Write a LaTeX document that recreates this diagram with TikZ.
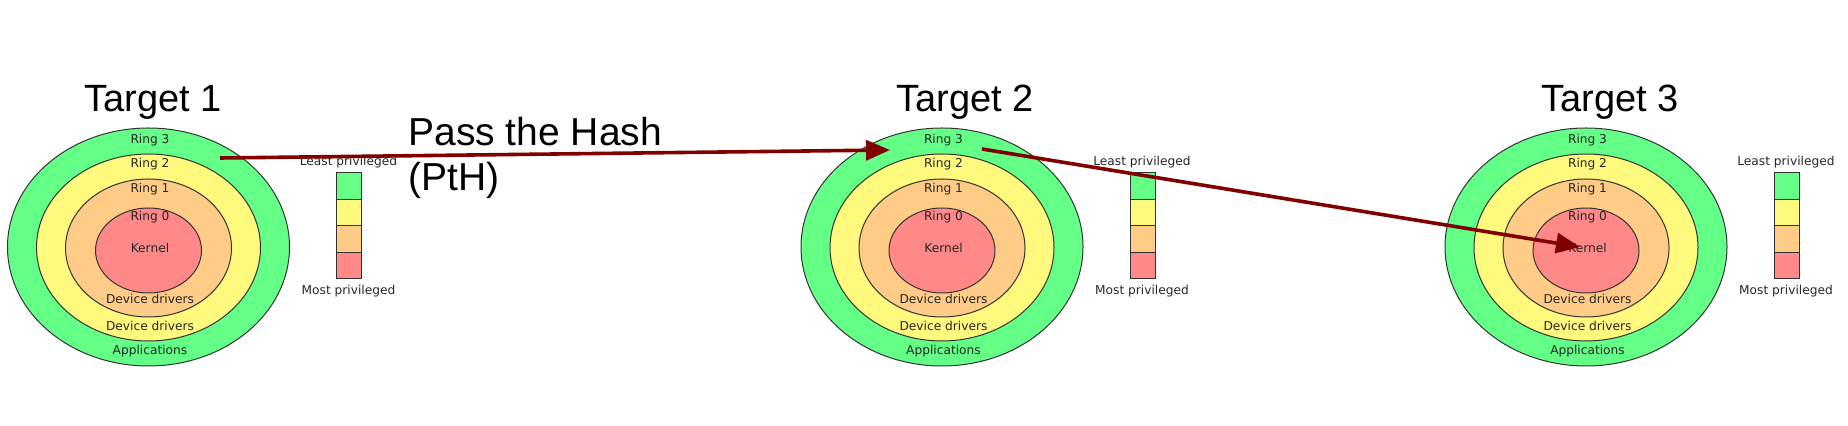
\documentclass[tikz,border=0pt]{standalone}
\usepackage{fontspec}
\setmainfont{Liberation Sans}
\newfontfamily\ringfont{DejaVu Sans}
\usetikzlibrary{shapes.geometric,arrows.meta}
\definecolor{ringgreen}{RGB}{100,255,135}
\definecolor{ringyellow}{RGB}{255,250,125}
\definecolor{ringorange}{RGB}{255,204,136}
\definecolor{ringred}{RGB}{255,136,136}
\definecolor{pthred}{RGB}{128,0,0}
\begin{document}
\begin{tikzpicture}[
        x=0.5pt, y=-0.5pt,
        % Ringe als Ellipsen, Maße in pt
        ring/.style={ellipse, draw=black!80, line width=0.5pt, inner sep=0pt},
        ringlabel/.style={font=\ringfont\fontsize{6.1}{7}\selectfont, text=black!85, inner sep=0pt},
        % Legende rechts neben jedem Ziel
        legendbox/.style={draw=black!80, line width=0.5pt, minimum width=12.5pt, minimum height=13.25pt, inner sep=0pt},
        title/.style={font=\fontsize{19}{22}\selectfont, inner sep=0pt, anchor=base},
        pth/.style={font=\fontsize{19.5}{22.5}\selectfont, align=left, inner sep=0pt},
        hop/.style={-{Triangle[length=12pt,width=10pt]}, line width=1.8pt, draw=pthred}
    ]
    \useasboundingbox (0,0) rectangle (1848,426);
    \foreach \cx/\n/\tx in {148.5/1/153, 942/2/965, 1586/3/1610} {
        \node[title] (title\n) at (\tx,112) {Target \n};
        \node[ring, fill=ringgreen, minimum width=141pt, minimum height=119pt] (ring3\n) at (\cx,247) {};
        \node[ring, fill=ringyellow, minimum width=112pt, minimum height=93.5pt] (ring2\n) at (\cx,247.5) {};
        \node[ring, fill=ringorange, minimum width=83pt, minimum height=69pt] (ring1\n) at (\cx,248) {};
        \node[ring, fill=ringred, minimum width=53pt, minimum height=42.5pt] (ring0\n) at (\cx,250.5) {};
        \node[ringlabel] (lring3\n) at (\cx+1.5,140) {Ring 3};
        \node[ringlabel] (lring2\n) at (\cx+1.5,164) {Ring 2};
        \node[ringlabel] (lring1\n) at (\cx+1.5,189) {Ring 1};
        \node[ringlabel] (lring0\n) at (\cx+1.5,217) {Ring 0};
        \node[ringlabel] (kernel\n) at (\cx+1.5,248) {Kernel};
        \node[ringlabel] (drv1\n) at (\cx+1.5,299) {Device drivers};
        \node[ringlabel] (drv2\n) at (\cx+1.5,326) {Device drivers};
        \node[ringlabel] (apps\n) at (\cx+1.5,351) {Applications};
        % Legende
        \node[legendbox, fill=ringgreen] (leg3\n) at (\cx+200.5,186.25) {};
        \node[legendbox, fill=ringyellow] (leg2\n) at (\cx+200.5,212.75) {};
        \node[legendbox, fill=ringorange] (leg1\n) at (\cx+200.5,239.25) {};
        \node[legendbox, fill=ringred] (leg0\n) at (\cx+200.5,265.75) {};
        \node[ringlabel] (least\n) at (\cx+200,162) {Least privileged};
        \node[ringlabel] (most\n) at (\cx+200,291) {Most privileged};
    }
    \node[pth, anchor=north west] (pthtext) at (408,117) {Pass the Hash\\(PtH)};
    \coordinate (hashstart) at (220,158);
    \coordinate (hashend) at (890,150);
    \coordinate (hopstart) at (982,149);
    \coordinate (hopend) at (1580,247);
    \draw[hop] (hashstart) -- (hashend);
    \draw[hop] (hopstart) -- (hopend);
\end{tikzpicture}
\end{document}
